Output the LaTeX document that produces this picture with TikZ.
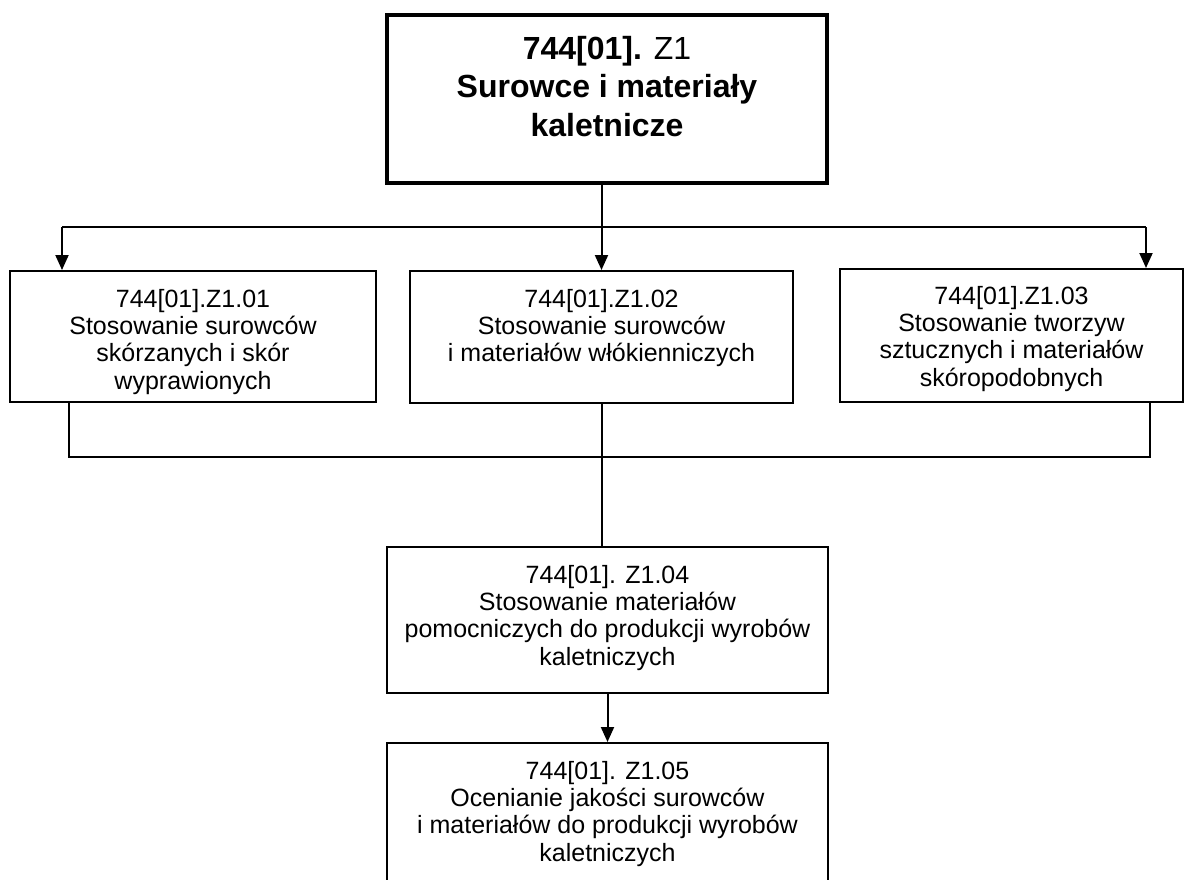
\documentclass[tikz,border=0pt]{standalone}
\usepackage{fontspec}
\setmainfont{Liberation Sans}
\usetikzlibrary{positioning,arrows.meta}

\tikzset{modbox/.style={draw, line width=2pt, inner sep=0pt},
         modtext/.style={align=center, inner sep=0pt, font=\fontsize{25}{27.3}\selectfont},
         headtext/.style={align=center, inner sep=0pt, font=\fontsize{32}{38.5}\selectfont\bfseries},
         link/.style={line width=2pt},
         arr/.style={line width=2pt, -{Triangle[length=15pt,width=13pt]}}}

\begin{document}
\begin{tikzpicture}[x=1pt,y=-1pt]
\useasboundingbox (0,0) rectangle (1184,879);
% boxes
\node[modbox, line width=4pt, minimum width=440pt, minimum height=168pt] (z1) at (607,99) {};
\node[modbox, minimum width=366pt, minimum height=131pt] (m01) at (193,336.5) {};
\node[modbox, minimum width=383pt, minimum height=132pt] (m02) at (601.5,337) {};
\node[modbox, minimum width=343pt, minimum height=133pt] (m03) at (1011.5,335.5) {};
\node[modbox, minimum width=441pt, minimum height=146pt] (m04) at (607.5,620) {};
\node[modbox, minimum width=441pt, minimum height=157pt] (m05) at (607.5,821.5) {};
% texts
\node[headtext, below=23pt of z1.north] (z1t) {744[01]. {\mdseries Z1}\\Surowce i materiały\\kaletnicze};
\node[modtext, below=19pt of m01.north] (m01t) {744[01].Z1.01\\Stosowanie surowców\\skórzanych i skór\\wyprawionych};
\node[modtext, below=19pt of m02.north] (m02t) {744[01].Z1.02\\Stosowanie surowców\\i materiałów włókienniczych};
\node[modtext, below=18pt of m03.north] (m03t) {744[01].Z1.03\\Stosowanie tworzyw\\sztucznych i materiałów\\skóropodobnych};
\node[modtext, below=19pt of m04.north] (m04t) {744[01]. Z1.04\\Stosowanie materiałów\\pomocniczych do produkcji wyrobów\\kaletniczych};
\node[modtext, below=19pt of m05.north] (m05t) {744[01]. Z1.05\\Ocenianie jakości surowców\\i materiałów do produkcji wyrobów\\kaletniczych};
% connectors
\coordinate (busl) at (62,227);
\coordinate (busr) at (1146,227);
\coordinate (lowl) at (69,457);
\coordinate (lowr) at (1150,457);
\draw[link] (m02.north |- z1.south) -- (m02.north |- busl);
\draw[link] (busl) -- (busr);
\draw[arr] (busl) -- (busl |- m01.north);
\draw[arr] (m02.north |- busl) -- (m02.north);
\draw[arr] (busr) -- (busr |- m03.north);
\draw[link] (lowl |- m01.south) -- (lowl) -- (lowr) -- (lowr |- m03.south);
\draw[link] (m02.south) -- (m02.south |- m04.north);
\draw[arr] (m04.south) -- (m05.north);
\end{tikzpicture}
\end{document}
